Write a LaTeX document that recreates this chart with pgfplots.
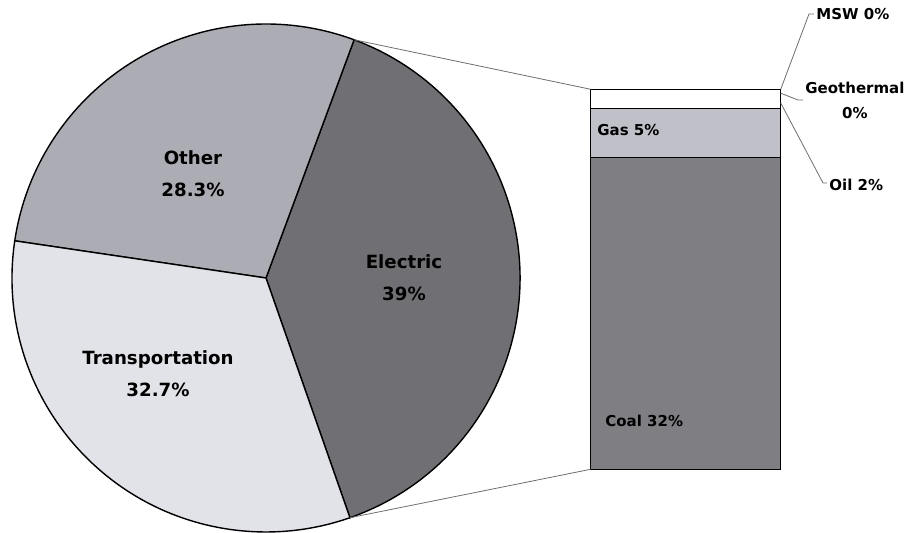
\documentclass[border=0pt]{standalone}
\usepackage{fontspec}
\setmainfont{DejaVu Sans}
\usepackage{pgfplots}
\usepackage{pgfplotstable}
\usetikzlibrary{calc}
\pgfplotsset{compat=1.18}

\definecolor{cElec}{RGB}{112,112,116}
\definecolor{cOther}{RGB}{172,172,180}
\definecolor{cTrans}{RGB}{226,226,233}
\definecolor{cGas}{RGB}{192,192,200}
\definecolor{cCoal}{RGB}{126,126,131}
\definecolor{cLead}{RGB}{110,110,110}

% share of energy use by sector (pie)
\pgfplotstableread{
sector value
Electric 39
Other 28.3
Transportation 32.7
}\piedata

\pgfplotstablegetelem{0}{value}\of\piedata\let\vElec\pgfplotsretval
\pgfplotstablegetelem{1}{value}\of\piedata\let\vOther\pgfplotsretval
\pgfplotstablegetelem{2}{value}\of\piedata\let\vTrans\pgfplotsretval

% slice angles, electric centred on the right
\pgfmathsetmacro\aA{-70.7}
\pgfmathsetmacro\aB{\aA+3.6*\vElec}
\pgfmathsetmacro\aC{\aB+3.6*\vOther}
\pgfmathsetmacro\aD{\aC+3.6*\vTrans}

\newcommand\lblbig{\fontsize{9.1}{16}\selectfont\bfseries}
\newcommand\lblsml{\fontsize{7.5}{12.5}\selectfont\bfseries}

\begin{document}%
\begin{tikzpicture}
% canvas axis in pixel units (1px = 0.5pt), holds the pie
\begin{axis}[
    hide axis, scale only axis, clip=false,
    width=455pt, height=266.5pt,
    xmin=0, xmax=910, ymin=0, ymax=533,
    anchor=south west, at={(0,0)}]
  \filldraw[fill=cElec, draw=black, line width=0.7pt]
    (axis cs:266,255) -- ++(\aA:127pt) arc[start angle=\aA, end angle=\aB, radius=127pt] -- cycle;
  \filldraw[fill=cOther, draw=black, line width=0.7pt]
    (axis cs:266,255) -- ++(\aB:127pt) arc[start angle=\aB, end angle=\aC, radius=127pt] -- cycle;
  \filldraw[fill=cTrans, draw=black, line width=0.7pt]
    (axis cs:266,255) -- ++(\aC:127pt) arc[start angle=\aC, end angle=\aD, radius=127pt] -- cycle;
  \coordinate (pietop) at ($(axis cs:266,255)+(\aB:127pt)$);
  \coordinate (piebot) at ($(axis cs:266,255)+(\aA:127pt)$);

  \node[align=center, inner sep=0, font=\lblbig] at (axis cs:193,359) {Other\\28.3\%};
  \node[align=center, inner sep=0, font=\lblbig] at (axis cs:404,255) {Electric\\39\%};
  \node[align=center, inner sep=0, font=\lblbig] at (axis cs:158,159) {Transportation\\32.7\%};

  \coordinate (gasL) at (axis cs:597,403);
  \coordinate (coalL) at (axis cs:605,112);
  \coordinate (mswL) at (axis cs:816,519);
  \coordinate (geoL) at (axis cs:805,432.5);
  \coordinate (oilL) at (axis cs:829,348);
  \coordinate (mswA) at (axis cs:809,519);
  \coordinate (mswB) at (axis cs:814,519);
  \coordinate (geoA) at (axis cs:798,433);
  \coordinate (geoB) at (axis cs:803,433);
  \coordinate (oilA) at (axis cs:823,350);
  \coordinate (oilB) at (axis cs:827,350);
\end{axis}

% bar of pie: electric split by source
\begin{axis}[
    hide axis, scale only axis, clip=false,
    anchor=south west, at={(295.35pt,31.85pt)},
    width=95pt, height=190pt,
    xmin=-0.5, xmax=0.5, ymin=0, ymax=39,
    ybar stacked, bar width=95pt]
  \addplot[fill=cCoal, draw=black, line width=0.7pt] coordinates {(0,32)};
  \addplot[fill=cGas, draw=black, line width=0.7pt] coordinates {(0,5)};
  \addplot[fill=white, draw=black, line width=0.7pt] coordinates {(0,2)};
  \addplot[fill=white, draw=black, line width=0.7pt] coordinates {(0,0)};
  \addplot[fill=white, draw=black, line width=0.7pt] coordinates {(0,0)};
  \coordinate (bartl) at (axis cs:-0.5,39);
  \coordinate (barbl) at (axis cs:-0.5,0);
  \coordinate (mswS) at (axis cs:0.5,39);
  \coordinate (geoS) at (axis cs:0.5,38.6);
  \coordinate (oilS) at (axis cs:0.5,37.6);
\end{axis}

\draw[cLead, line width=0.4pt] (pietop) -- (bartl);
\draw[cLead, line width=0.4pt] (piebot) -- (barbl);
\draw[cLead, line width=0.4pt] (mswS) -- (mswA) -- (mswB);
\draw[cLead, line width=0.4pt] (geoS) -- (geoA) -- (geoB);
\draw[cLead, line width=0.4pt] (oilS) -- (oilA) -- (oilB);

\node[anchor=west, inner sep=0, font=\lblsml] at (gasL) {Gas 5\%};
\node[anchor=west, inner sep=0, font=\lblsml] at (coalL) {Coal 32\%};
\node[anchor=west, inner sep=0, font=\lblsml] at (mswL) {MSW 0\%};
\node[anchor=west, inner sep=0, font=\lblsml, align=center] at (geoL) {Geothermal\\0\%};
\node[anchor=west, inner sep=0, font=\lblsml] at (oilL) {Oil 2\%};

\pgfresetboundingbox
\path (0,0) rectangle (455pt,266.5pt);
\end{tikzpicture}%
\end{document}
